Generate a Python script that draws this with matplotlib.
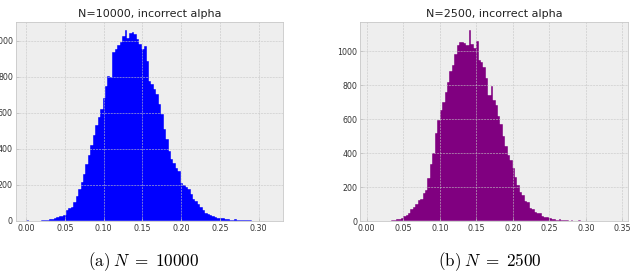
import numpy as np
import matplotlib
matplotlib.use("Agg")
import matplotlib.pyplot as plt

# ---- data ----
titles = ["N=10000, incorrect alpha", "N=2500, incorrect alpha"]
captions = [r"$\mathrm{(a)}\;N\;=\;10000$", r"$\mathrm{(b)}\;N\;=\;2500$"]
colors = ["blue", "purple"]

range_a = (0.001, 0.316)
counts_a = [3, 2, 0, 0, 0, 2, 4, 5, 6, 9,
            12, 15, 22, 27, 30, 34, 60, 70, 75, 105,
            140, 175, 215, 260, 315, 365, 420, 480, 535, 580,
            620, 683, 748, 806, 800, 939, 955, 978, 995, 1030,
            1062, 1015, 1046, 1048, 1036, 1012, 985, 955, 972, 890,
            780, 760, 732, 704, 650, 596, 512, 456, 388, 345,
            322, 297, 278, 209, 200, 190, 175, 150, 122, 110,
            92, 76, 60, 46, 40, 34, 26, 24, 18, 16,
            17, 11, 9, 8, 7, 9, 6, 5, 5, 4,
            3, 4, 2, 2, 1, 0, 0, 0, 0, 1]

range_b = (0.0066, 0.3396)
counts_b = [0, 0, 0, 0, 0, 0, 4, 2, 6, 8,
            11, 16, 22, 30, 37, 50, 75, 86, 102, 125,
            133, 169, 184, 253, 335, 400, 518, 596, 655, 700,
            760, 822, 885, 920, 985, 1037, 1057, 1054, 1050, 1035,
            1125, 1045, 1018, 1060, 948, 938, 905, 840, 740, 795,
            712, 684, 620, 570, 500, 445, 392, 360, 315, 262,
            214, 170, 155, 118, 114, 76, 71, 52, 50, 46,
            31, 27, 24, 18, 16, 12, 10, 12, 8, 10,
            6, 4, 8, 2, 1, 6, 0, 1, 0, 0,
            0, 0, 0, 4, 0, 0, 0, 0, 0, 1]

xticks_a = [0.00, 0.05, 0.10, 0.15, 0.20, 0.25, 0.30]
xticks_b = [0.00, 0.05, 0.10, 0.15, 0.20, 0.25, 0.30, 0.35]
yticks = [0, 200, 400, 600, 800, 1000]

plt.style.use("bmh")
fig = plt.figure(figsize=(6.34, 2.78), dpi=100)

panels = [
    dict(rect=[0.02524, 0.20504, 0.42114, 0.71583], rng=range_a, counts=counts_a,
         xlim=(-0.0129, 0.3313), ylim=(0, 1105), xticks=xticks_a, cap_x=144 / 634),
    dict(rect=[0.5683, 0.2040, 0.4218, 0.7180], rng=range_b, counts=counts_b,
         xlim=(-0.00876, 0.3573), ylim=(0, 1174), xticks=xticks_b, cap_x=490 / 634),
]

for k, p in enumerate(panels):
    ax = fig.add_axes(p["rect"])
    edges = np.linspace(p["rng"][0], p["rng"][1], len(p["counts"]) + 1)
    centers = 0.5 * (edges[:-1] + edges[1:])
    ax.hist(centers, bins=edges, weights=p["counts"], histtype="stepfilled",
            color=colors[k], edgecolor="#eeeeee", linewidth=0.3)
    ax.set_xlim(*p["xlim"])
    ax.set_ylim(*p["ylim"])
    ax.set_xticks(p["xticks"])
    ax.set_yticks(yticks)
    ax.tick_params(labelsize=5.7, length=2, width=0.5, pad=2.2, colors="#bcbcbc",
                   labelcolor="#333333")
    ax.grid(True, color="#c6c6c6", linestyle="--", linewidth=0.4)
    for s in ax.spines.values():
        s.set_linewidth(0.6)
        s.set_color("#c8c8c8")
    ax.set_title(titles[k], fontsize=8, pad=3.5, color="#222222")
    fig.text(p["cap_x"], 1 - 262 / 278, captions[k], ha="center", va="center",
             fontsize=12.3)

fig.savefig("out.png", dpi=100)
